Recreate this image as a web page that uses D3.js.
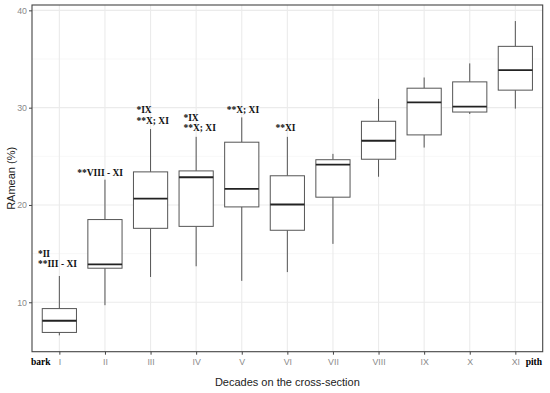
<!DOCTYPE html>
<html>
<head>
<meta charset="utf-8">
<script src="https://cdn.jsdelivr.net/npm/d3@7"></script>
<style>
  body { margin: 0; background: #fff; }
  svg { display: block; }
</style>
</head>
<body>
<div id="chart"></div>
<script>
// decades, bark (I) to pith (XI)
const decades = ['I', 'II', 'III', 'IV', 'V', 'VI', 'VII', 'VIII', 'IX', 'X', 'XI'];
// boxplot stats
const whiskerLow = [6.6, 9.7, 12.6, 13.7, 12.2, 13.1, 16.0, 22.9, 25.9, 29.35, 29.9];
const q1 =         [6.9, 13.5, 17.6, 17.8, 19.8, 17.4, 20.8, 24.7, 27.2, 29.55, 31.8];
const medians =    [8.1, 13.9, 20.65, 22.85, 21.65, 20.05, 24.15, 26.6, 30.55, 30.1, 33.85];
const q3 =         [9.35, 18.5, 23.4, 23.5, 26.45, 23.0, 24.65, 28.6, 32.0, 32.65, 36.3];
const whiskerHigh = [12.7, 22.6, 27.8, 27.0, 29.0, 27.0, 25.25, 30.9, 33.1, 34.55, 38.9];

const yTicks = [10, 20, 30, 40];
const yMinor = [15, 25, 35];

// significance notes: position in category units (1 = I) and value of first line
const noteX = [0.53, 1.39, 2.69, 3.72, 4.67, 5.74];
const noteY = [14.66, 22.98, 29.4, 28.66, 29.42, 27.6];
const noteLines = [
  ['*II', '**III - XI'],
  ['**VIII - XI'],
  ['*IX', '**X; XI'],
  ['*IX', '**X; XI'],
  ['**X; XI'],
  ['**XI']
];

const w = 550, h = 393;
const margin = {top: 5, right: 7.3, bottom: 41.3, left: 32};

const svg = d3.select('#chart').append('svg')
  .attr('width', w)
  .attr('height', h);

const x = d3.scalePoint()
  .domain(decades)
  .range([margin.left, w - margin.right])
  .padding(0.6);

const y = d3.scaleLinear()
  .domain([4.92, 40.55])
  .range([h - margin.bottom, margin.top]);

const step = x.step();
const boxW = step * 0.75;
const xu = u => x(decades[0]) + (u - 1) * step;

// grid
const grid = svg.append('g');
grid.selectAll('.minor').data(yMinor).enter().append('line')
  .attr('x1', margin.left).attr('x2', w - margin.right)
  .attr('y1', d => y(d)).attr('y2', d => y(d))
  .attr('stroke', '#f2f2f2').attr('stroke-width', 0.6);
grid.selectAll('.major').data(yTicks).enter().append('line')
  .attr('x1', margin.left).attr('x2', w - margin.right)
  .attr('y1', d => y(d)).attr('y2', d => y(d))
  .attr('stroke', '#ebebeb').attr('stroke-width', 1.1);
grid.selectAll('.vmajor').data(decades).enter().append('line')
  .attr('x1', d => x(d)).attr('x2', d => x(d))
  .attr('y1', margin.top).attr('y2', h - margin.bottom)
  .attr('stroke', '#ebebeb').attr('stroke-width', 1.1);

// boxes
const boxes = svg.selectAll('.box')
  .data(decades)
  .enter().append('g')
  .attr('class', 'box');

boxes.append('line')
  .attr('x1', d => x(d)).attr('x2', d => x(d))
  .attr('y1', (d, i) => y(q3[i])).attr('y2', (d, i) => y(whiskerHigh[i]))
  .attr('stroke', '#555').attr('stroke-width', 1);
boxes.append('line')
  .attr('x1', d => x(d)).attr('x2', d => x(d))
  .attr('y1', (d, i) => y(q1[i])).attr('y2', (d, i) => y(whiskerLow[i]))
  .attr('stroke', '#555').attr('stroke-width', 1);
boxes.append('rect')
  .attr('x', d => x(d) - boxW / 2)
  .attr('width', boxW)
  .attr('y', (d, i) => y(q3[i]))
  .attr('height', (d, i) => y(q1[i]) - y(q3[i]))
  .attr('fill', '#fff').attr('stroke', '#555').attr('stroke-width', 1);
boxes.append('line')
  .attr('x1', d => x(d) - boxW / 2).attr('x2', d => x(d) + boxW / 2)
  .attr('y1', (d, i) => y(medians[i])).attr('y2', (d, i) => y(medians[i]))
  .attr('stroke', '#222').attr('stroke-width', 1.8);

// notes
const notes = svg.selectAll('.note')
  .data(noteLines)
  .enter().append('text')
  .attr('class', 'note')
  .attr('font-family', '"Liberation Serif", "Times New Roman", serif')
  .attr('font-weight', 'bold')
  .attr('font-size', 9.5)
  .attr('fill', '#111');
notes.selectAll('tspan')
  .data((d, i) => d.map(t => ({t: t, i: i})))
  .enter().append('tspan')
  .attr('x', d => xu(noteX[d.i]))
  .attr('y', (d, j) => y(noteY[d.i]) + j * 10.5)
  .text(d => d.t);

// panel border
svg.append('rect')
  .attr('x', margin.left).attr('y', margin.top)
  .attr('width', w - margin.left - margin.right)
  .attr('height', h - margin.top - margin.bottom)
  .attr('fill', 'none').attr('stroke', '#444').attr('stroke-width', 1.1);

// axes
const xAxis = svg.append('g')
  .attr('transform', 'translate(0,' + (h - margin.bottom) + ')')
  .call(d3.axisBottom(x).tickSize(3).tickPadding(4));
const yAxis = svg.append('g')
  .attr('transform', 'translate(' + margin.left + ',0)')
  .call(d3.axisLeft(y).tickValues(yTicks).tickSize(3).tickPadding(2));

[xAxis, yAxis].forEach(a => {
  a.select('.domain').remove();
  a.selectAll('line').attr('stroke', '#444');
  a.selectAll('text')
    .attr('fill', '#8a8a8a')
    .attr('font-family', '"Liberation Sans", Arial, sans-serif')
    .attr('font-size', 8.8);
});

// bark / pith
svg.append('text')
  .attr('x', 31).attr('y', h - margin.bottom + 13)
  .attr('font-family', '"Liberation Serif", "Times New Roman", serif')
  .attr('font-weight', 'bold').attr('font-size', 9.5)
  .text('bark');
svg.append('text')
  .attr('x', w - 8).attr('y', h - margin.bottom + 13)
  .attr('text-anchor', 'end')
  .attr('font-family', '"Liberation Serif", "Times New Roman", serif')
  .attr('font-weight', 'bold').attr('font-size', 9.5)
  .text('pith');

// titles
svg.append('text')
  .attr('x', (margin.left + w - margin.right) / 2)
  .attr('y', h - 7)
  .attr('text-anchor', 'middle')
  .attr('font-family', '"Liberation Sans", Arial, sans-serif')
  .attr('font-size', 11)
  .attr('fill', '#222')
  .text('Decades on the cross-section');
svg.append('text')
  .attr('transform', 'translate(15,' + ((margin.top + h - margin.bottom) / 2) + ') rotate(-90)')
  .attr('text-anchor', 'middle')
  .attr('font-family', '"Liberation Sans", Arial, sans-serif')
  .attr('font-size', 11)
  .attr('fill', '#222')
  .text('RAmean (%)');
</script>
</body>
</html>
